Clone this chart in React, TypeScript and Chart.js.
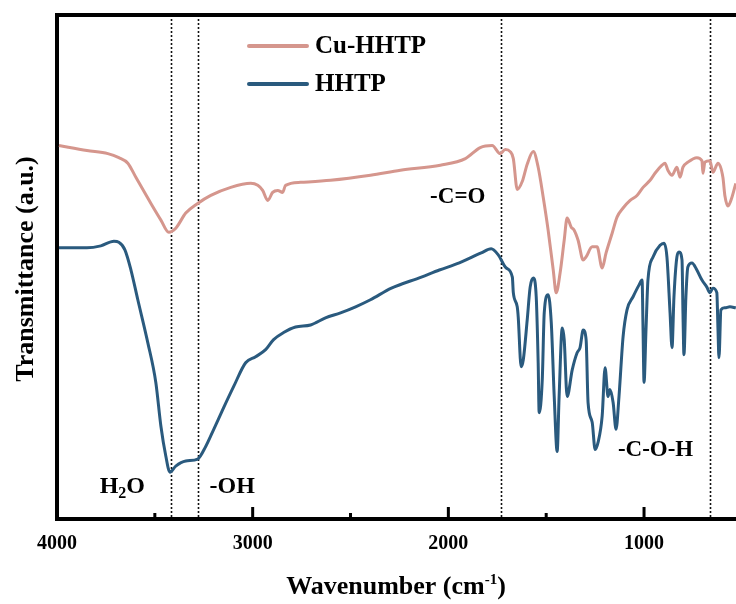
import React, { useEffect, useRef } from 'react';
import { Chart, registerables } from 'chart.js';

Chart.register(...registerables);

// ---- Data ----
const seriesLabels = ['Cu-HHTP', 'HHTP'];
const seriesColors = ['#D5968D', '#2A5A7E'];

const cuWavenumbers = [
  3990, 3847, 3740, 3684, 3638, 3597, 3520, 3469, 3429, 3393, 3342, 3281, 3214, 3112, 3010,
  2974, 2949, 2923, 2898, 2872, 2847, 2832, 2755, 2602, 2398, 2245, 2041, 1913, 1837, 1776,
  1735, 1709, 1684, 1668, 1648, 1622, 1597, 1566, 1541, 1515, 1490, 1464, 1449, 1429, 1408,
  1393, 1372, 1357, 1337, 1311, 1296, 1265, 1240, 1214, 1194, 1163, 1138, 1107, 1071, 1036,
  1005, 969, 944, 908, 893, 878, 857, 832, 816, 801, 776, 730, 704, 699, 689, 663, 648, 622,
  597, 587, 571, 551, 531,
];
const cuTransmittance = [
  74.1, 73.1, 72.5, 71.7, 70.6, 67.8, 62.6, 59.3, 56.9, 57.7, 60.7, 62.6, 64.2, 65.8, 66.6,
  66.2, 65.2, 63.2, 64.8, 65.2, 64.8, 66.2, 66.8, 67.2, 68.2, 69.2, 70.2, 71.5, 73.7, 74.1,
  72.5, 73.3, 72.9, 71.5, 65.4, 67.0, 70.4, 72.9, 69.8, 63.8, 57.3, 49.4, 44.9, 48.8, 55.3,
  59.7, 57.9, 57.3, 55.3, 51.4, 52.0, 54.0, 54.0, 49.8, 52.8, 56.7, 59.9, 61.7, 63.2, 64.2,
  65.8, 67.2, 68.6, 70.2, 70.6, 69.2, 68.2, 69.8, 67.8, 69.8, 70.8, 71.7, 71.1, 68.6, 70.8,
  71.1, 68.8, 70.6, 67.8, 64.2, 62.1, 63.8, 66.6,
];

const hhtpWavenumbers = [
  3990, 3847, 3776, 3709, 3684, 3653, 3622, 3587, 3536, 3495, 3469, 3444, 3423, 3393, 3342,
  3281, 3240, 3199, 3153, 3097, 3036, 2985, 2934, 2893, 2842, 2781, 2704, 2628, 2551, 2474,
  2398, 2291, 2138, 2046, 1944, 1832, 1781, 1745, 1704, 1673, 1668, 1648, 1643, 1628, 1617,
  1597, 1582, 1566, 1551, 1541, 1536, 1520, 1510, 1490, 1474, 1459, 1444, 1434, 1418, 1408,
  1393, 1367, 1342, 1327, 1311, 1296, 1286, 1265, 1250, 1235, 1214, 1199, 1184, 1174, 1158,
  1143, 1128, 1107, 1087, 1056, 1026, 1010, 1005, 1000, 990, 980, 954, 918, 898, 883, 867,
  857, 847, 832, 821, 806, 801, 796, 786, 776, 755, 730, 704, 679, 663, 648, 628, 622, 617,
  607, 587, 561, 531,
];
const hhtpTransmittance = [
  53.8, 53.8, 54.2, 55.1, 54.9, 53.4, 49.4, 43.5, 35.0, 27.1, 18.4, 12.5, 9.3, 10.5, 11.5,
  11.9, 14.4, 17.8, 21.7, 26.3, 31.0, 32.2, 33.6, 35.6, 37.0, 38.1, 38.5, 39.9, 40.9, 42.1,
  43.5, 45.8, 48.0, 49.4, 50.8, 52.8, 53.6, 52.4, 49.8, 48.0, 44.9, 42.1, 40.1, 30.2, 31.6,
  39.5, 46.0, 47.8, 44.1, 31.0, 21.1, 27.7, 40.9, 44.5, 38.9, 24.3, 13.4, 24.3, 37.9, 35.6,
  24.3, 29.6, 33.0, 34.0, 37.5, 35.6, 23.1, 19.2, 13.8, 15.2, 20.4, 30.0, 24.3, 25.7, 23.1,
  17.8, 24.3, 36.2, 41.5, 44.1, 46.4, 47.4, 37.5, 27.1, 37.5, 47.4, 52.0, 54.3, 54.7, 52.0, 40.9,
  34.0, 44.1, 52.0, 53.0, 51.4, 40.9, 32.6, 44.1, 50.0, 50.8, 49.4, 47.4, 46.0, 44.9, 45.8, 44.9, 37.5, 32.0,
  41.5, 41.9, 42.1, 41.9,
];

const xMajorTicks = [4000, 3000, 2000, 1000];
const xMinorTicks = [3500, 2500, 1500];
const bandLines = [3418, 3281, 1730, 663];

const FONT = '"Liberation Serif", "Times New Roman", Times, serif';

type Part = { t: string; size: number; dy?: number };

function drawParts(ctx: CanvasRenderingContext2D, parts: Part[], x: number, y: number, align: 'left' | 'center') {
  let total = 0;
  const widths = parts.map((p) => {
    ctx.font = `bold ${p.size}px ${FONT}`;
    const w = ctx.measureText(p.t).width;
    total += w;
    return w;
  });
  let cx = align === 'center' ? x - total / 2 : x;
  ctx.textAlign = 'left';
  ctx.textBaseline = 'alphabetic';
  parts.forEach((p, i) => {
    ctx.font = `bold ${p.size}px ${FONT}`;
    ctx.fillText(p.t, cx, y + (p.dy || 0));
    cx += widths[i];
  });
}

const annotations: { parts: Part[]; w: number; v: number }[] = [
  { parts: [{ t: 'H', size: 24 }, { t: '2', size: 16, dy: 5 }, { t: 'O', size: 24 }], w: 3666, v: 5.2 },
  { parts: [{ t: '-OH', size: 24 }], w: 3105, v: 5.2 },
  { parts: [{ t: '-C=O', size: 23 }], w: 1952, v: 62.7 },
  { parts: [{ t: '-C-O-H', size: 23 }], w: 941, v: 12.5 },
];

const decorPlugin = {
  id: 'decor',
  beforeDatasetsDraw(chart: any) {
    const { ctx, chartArea, scales } = chart;
    const xs = scales.x;
    ctx.save();
    ctx.strokeStyle = '#111';
    ctx.lineWidth = 1.6;
    ctx.setLineDash([2, 2]);
    for (const w of bandLines) {
      const px = Math.round(xs.getPixelForValue(w)) + 0.5;
      ctx.beginPath();
      ctx.moveTo(px, chartArea.top);
      ctx.lineTo(px, chartArea.bottom);
      ctx.stroke();
    }
    ctx.restore();
  },
  afterDraw(chart: any) {
    const { ctx, chartArea, scales } = chart;
    const xs = scales.x;
    const ys = scales.y;
    ctx.save();
    ctx.fillStyle = '#000';
    // top frame
    ctx.fillRect(chartArea.left - 2, chartArea.top - 2, chartArea.right - chartArea.left + 2, 4);
    // inward tick marks
    for (const v of xMajorTicks) {
      const px = xs.getPixelForValue(v);
      ctx.fillRect(px - 1.5, chartArea.bottom - 12, 3, 12);
    }
    for (const v of xMinorTicks) {
      const px = xs.getPixelForValue(v);
      ctx.fillRect(px - 1.5, chartArea.bottom - 6, 3, 6);
    }
    // legend
    chart.data.datasets.forEach((ds: any, i: number) => {
      const ly = 46 + i * 38;
      ctx.strokeStyle = ds.borderColor;
      ctx.lineWidth = 4;
      ctx.lineCap = 'round';
      ctx.beginPath();
      ctx.moveTo(249, ly);
      ctx.lineTo(307, ly);
      ctx.stroke();
      ctx.fillStyle = '#000';
      drawParts(ctx, [{ t: ds.label, size: 25 }], 315, ly + 7, 'left');
    });
    // band annotations
    ctx.fillStyle = '#000';
    for (const a of annotations) {
      drawParts(ctx, a.parts, xs.getPixelForValue(a.w), ys.getPixelForValue(a.v), 'center');
    }
    // x axis title
    drawParts(
      ctx,
      [{ t: 'Wavenumber (cm', size: 26 }, { t: '-1', size: 15, dy: -10 }, { t: ')', size: 26 }],
      396,
      594,
      'center'
    );
    // y axis title
    ctx.translate(33, (chartArea.top + chartArea.bottom) / 2 + 2);
    ctx.rotate(-Math.PI / 2);
    drawParts(ctx, [{ t: 'Transmittance (a.u.)', size: 26 }], 0, 0, 'center');
    ctx.restore();
  },
};

export default function App() {
  const canvasRef = useRef<HTMLCanvasElement | null>(null);

  useEffect(() => {
    if (!canvasRef.current) return;
    const chart = new Chart(canvasRef.current, {
      type: 'line',
      data: {
        datasets: [
          {
            label: seriesLabels[0],
            data: cuWavenumbers.map((w, i) => ({ x: w, y: cuTransmittance[i] })),
            borderColor: seriesColors[0],
            borderWidth: 3,
            pointRadius: 0,
            fill: false,
            cubicInterpolationMode: 'monotone',
          },
          {
            label: seriesLabels[1],
            data: hhtpWavenumbers.map((w, i) => ({ x: w, y: hhtpTransmittance[i] })),
            borderColor: seriesColors[1],
            borderWidth: 3,
            pointRadius: 0,
            fill: false,
            cubicInterpolationMode: 'monotone',
          },
        ],
      },
      options: {
        responsive: false,
        devicePixelRatio: 1,
        animation: false,
        layout: { padding: { top: 15, right: 0, bottom: 0, left: 0 } },
        plugins: { legend: { display: false }, tooltip: { enabled: false }, title: { display: false } },
        scales: {
          x: {
            type: 'linear',
            reverse: true,
            min: 530,
            max: 4000,
            afterBuildTicks: (s: any) => {
              s.ticks = xMajorTicks.map((v) => ({ value: v }));
            },
            afterFit: (s: any) => {
              s.height = 85;
            },
            ticks: {
              autoSkip: false,
              maxRotation: 0,
              padding: 13,
              color: '#000',
              font: { family: FONT, size: 20, weight: 'bold' },
              callback: (v: any) => String(v),
            },
            grid: { display: false, drawTicks: false },
            border: { display: true, width: 4, color: '#000' },
          },
          y: {
            min: 0,
            max: 100,
            afterFit: (s: any) => {
              s.width = 57;
            },
            ticks: { display: false },
            grid: { display: false, drawTicks: false },
            border: { display: true, width: 4, color: '#000' },
          },
        },
      } as any,
      plugins: [decorPlugin],
    });
    return () => chart.destroy();
  }, []);

  return (
    <div style={{ position: 'absolute', left: 0, top: 0, width: 736, height: 604, background: '#fff' }}>
      <canvas ref={canvasRef} width={736} height={604} style={{ display: 'block' }} />
    </div>
  );
}
